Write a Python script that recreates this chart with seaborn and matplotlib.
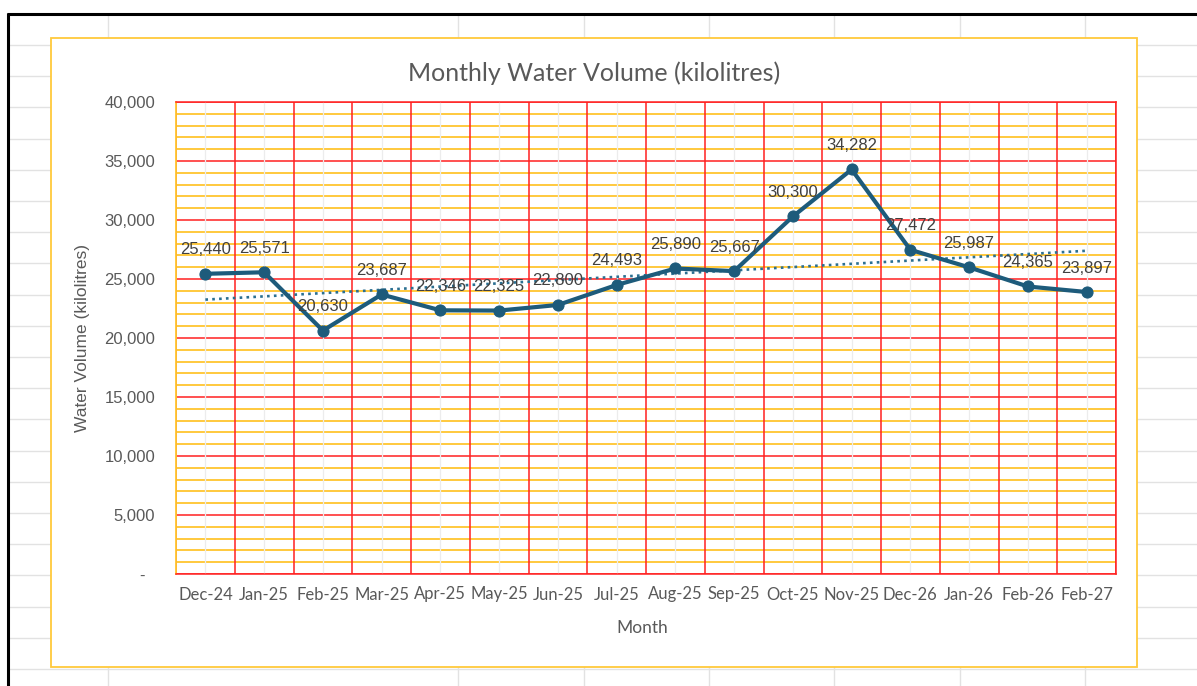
import numpy as np
import pandas as pd
import matplotlib
matplotlib.use("Agg")
import matplotlib.pyplot as plt
import seaborn as sns
from matplotlib.lines import Line2D
from matplotlib.patches import Rectangle
from matplotlib.ticker import FixedLocator, MultipleLocator, FuncFormatter, NullFormatter

# ---- data ----
months = ["Dec-24", "Jan-25", "Feb-25", "Mar-25", "Apr-25", "May-25", "Jun-25", "Jul-25",
          "Aug-25", "Sep-25", "Oct-25", "Nov-25", "Dec-26", "Jan-26", "Feb-26", "Feb-27"]
volumes = [25440, 25571, 20630, 23687, 22346, 22325, 22800, 24493,
           25890, 25667, 30300, 34282, 27472, 25987, 24365, 23897]
title_text = "Monthly Water Volume (kilolitres)"
y_label = "Water Volume (kilolitres)"
x_label = "Month"

# ---- style ----
W, H = 1197, 686
LINE_COLOR = "#1d5b7b"
TEXT_COLOR = "#595959"
RED = "#ff2020"
ORANGE = "#ffc52e"
BOX = "#ffc93c"
SHEET = "#e2e2e2"

sns.set_theme(style="white")
plt.rcParams["font.family"] = ["Liberation Sans", "DejaVu Sans"]

fig = plt.figure(figsize=(W / 100, H / 100), dpi=100, facecolor="white")

def fx(px):
    return px / W

def fy(py):
    return 1 - py / H

# spreadsheet background
for k in range(22):
    y = 45 + 31.2 * k
    if y > H:
        break
    fig.add_artist(Line2D([fx(8), 1], [fy(y), fy(y)], transform=fig.transFigure,
                          color=SHEET, lw=1.0, zorder=-3))
for x in [108, 458, 584, 709, 834, 960, 1085]:
    fig.add_artist(Line2D([fx(x), fx(x)], [fy(14), 0], transform=fig.transFigure,
                          color=SHEET, lw=1.0, zorder=-3))
fig.add_artist(Line2D([fx(7), 1], [fy(14), fy(14)], transform=fig.transFigure,
                      color="black", lw=2.2, zorder=-2.5, solid_capstyle="butt"))
fig.add_artist(Line2D([fx(8), fx(8)], [fy(13), 0], transform=fig.transFigure,
                      color="black", lw=2.2, zorder=-2.5, solid_capstyle="butt"))

# chart box
fig.add_artist(Rectangle((fx(51), fy(667)), fx(1137) - fx(51), fy(38) - fy(667),
                         transform=fig.transFigure, facecolor="white", edgecolor=BOX,
                         lw=1.3, zorder=-1))

# plot area
left, right, top, bottom = 176, 1116, 102, 574
ax = fig.add_axes([fx(left), fy(bottom), fx(right) - fx(left), fy(top) - fy(bottom)])
ax.set_facecolor("white")

df = pd.DataFrame({"month": months, "volume": volumes})
df["pos"] = np.arange(len(months))

sns.lineplot(data=df, x="pos", y="volume", ax=ax, color=LINE_COLOR, lw=3.0,
             marker="o", markersize=8, markeredgecolor=LINE_COLOR, zorder=3)

# linear trendline
coef = np.polyfit(df["pos"], df["volume"], 1)
trend = np.polyval(coef, df["pos"])
ax.plot(df["pos"], trend, color="#2b6f91", lw=1.9, linestyle=(0, (1, 1.6)), zorder=2.5)

# data labels
for p, v in zip(df["pos"], df["volume"]):
    ax.annotate(f"{v:,}", (p, v), xytext=(0, 24), textcoords="offset pixels",
                ha="center", va="center", fontsize=12, color="#404040", zorder=4)

n = len(months)
ax.set_xlim(-0.5, n - 0.5)
ax.set_ylim(0, 40000)

# x: major at boundaries (red grid + ticks), minor at centers (labels + gray grid)
ax.xaxis.set_major_locator(FixedLocator(np.arange(n + 1) - 0.5))
ax.xaxis.set_major_formatter(NullFormatter())
ax.xaxis.set_minor_locator(FixedLocator(np.arange(n)))
ax.xaxis.set_minor_formatter(FuncFormatter(lambda v, p: months[int(round(v))]))
ax.xaxis.remove_overlapping_locs = False
ax.tick_params(axis="x", which="major", length=4, width=1.1, color=RED, direction="out")
ax.tick_params(axis="x", which="minor", length=0, pad=9, labelsize=12,
               labelcolor=TEXT_COLOR)
for lab in ax.xaxis.get_minorticklabels():
    lab.set_fontfamily(["Lato", "DejaVu Sans"])

# y: major 5000 red, minor 1000 orange
ax.yaxis.set_major_locator(MultipleLocator(5000))
ax.yaxis.set_minor_locator(MultipleLocator(1000))
ax.yaxis.set_major_formatter(FuncFormatter(lambda v, p: "-  " if v == 0 else f"{v:,.0f}"))
ax.tick_params(axis="y", which="both", length=0, pad=15, labelsize=12,
               labelcolor=TEXT_COLOR)

ax.grid(which="major", axis="y", color=RED, lw=1.1)
ax.grid(which="minor", axis="y", color=ORANGE, lw=1.3)
ax.grid(which="major", axis="x", color=RED, lw=1.1)
ax.grid(which="minor", axis="x", color="#ececec", lw=0.9)
ax.set_axisbelow(True)
ax.yaxis.set_zorder(0.4)
ax.xaxis.set_zorder(0.6)

for s in ["top", "right", "bottom"]:
    ax.spines[s].set_color(RED)
    ax.spines[s].set_linewidth(1.1)
ax.spines["left"].set_color(ORANGE)
ax.spines["left"].set_linewidth(1.3)

ax.set_xlabel(x_label, fontsize=12.5, color=TEXT_COLOR, family=["Lato", "DejaVu Sans"],
              va="center")
ax.xaxis.set_label_coords((642 - left) / (right - left), -(628 - bottom) / (bottom - top))
ax.set_ylabel(y_label, fontsize=12.5, color=TEXT_COLOR, va="center")
ax.yaxis.set_label_coords((82 - left) / (right - left), 0.5)

fig.text(fx(594), fy(73), title_text, ha="center", va="center", fontsize=18,
         color=TEXT_COLOR, family=["Lato", "DejaVu Sans"])

fig.savefig("out.png", dpi=100, facecolor="white")
